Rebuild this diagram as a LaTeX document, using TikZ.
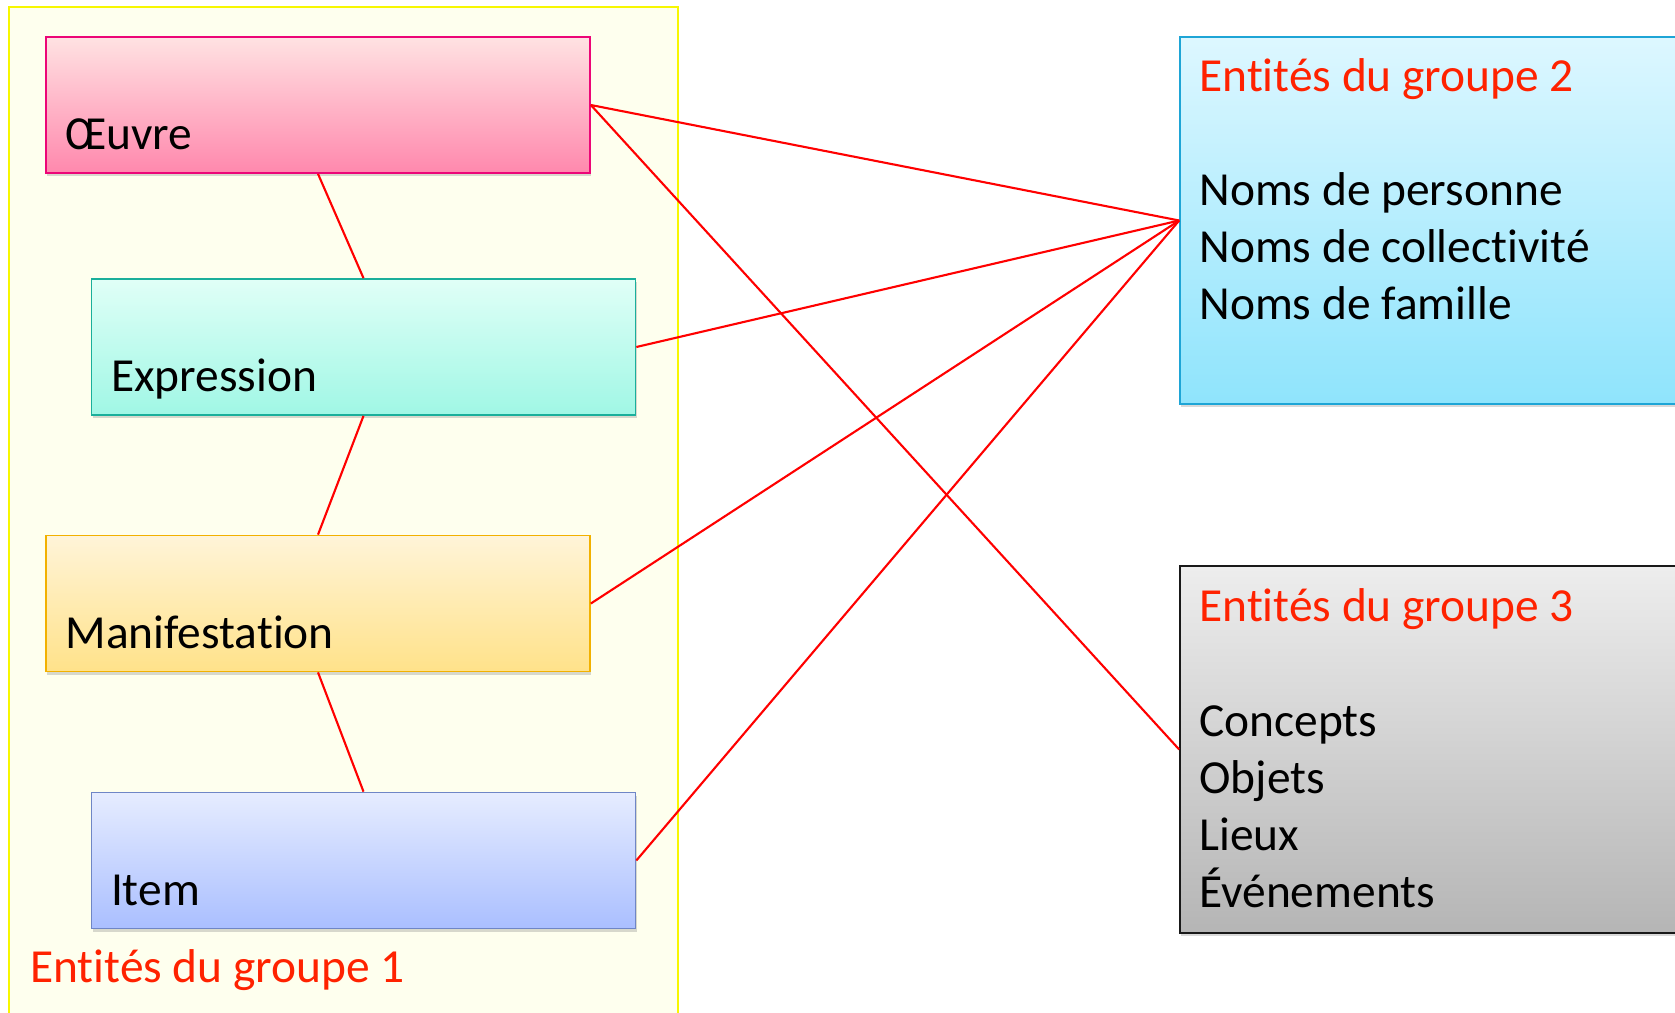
\documentclass[tikz,border=0pt]{standalone}
\usepackage{fontspec}
\setmainfont{Carlito}[Ligatures=NoCommon]
\usepackage{tikz}
\usetikzlibrary{shadows}
\definecolor{fondjaune}{HTML}{FEFFEE}
\definecolor{bordjaune}{HTML}{F7F700}
\definecolor{titrerouge}{HTML}{FF2200}
\definecolor{lienrouge}{HTML}{FF0000}
\newcommand{\boxw}{10.88cm}
\newcommand{\boxh}{2.72cm}
\newcommand{\grw}{11.4cm}
\newcommand{\grh}{7.34cm}

\begin{document}
\begin{tikzpicture}[x=0.02cm, y=-0.02cm,
        every node/.style={font=\fontsize{27}{32}\selectfont},
        entite/.style={rectangle, line width=1pt, inner sep=0pt,
                minimum width=\boxw, minimum height=\boxh,
                drop shadow={shadow xshift=0.6pt, shadow yshift=-1.8pt, opacity=0.3}},
        groupe/.style={entite, minimum width=\grw, minimum height=\grh},
        nomlabel/.style={anchor=base west, inner sep=0pt},
        titre/.style={anchor=base west, inner sep=0pt, text=titrerouge},
        lien/.style={draw=lienrouge, line width=1.2pt}]
                %\draw[help lines] (0,0) grid[step=100] (1675,1012);
                \useasboundingbox (0,0) rectangle (1675,1012);
                \clip (0,0) rectangle (1675,1012);
                % groupe 1
                \node[draw=bordjaune, fill=fondjaune, line width=0.8pt, minimum width=13.38cm,
                        minimum height=20.46cm, inner sep=0pt] (groupe1) at (343.5,518.5) {};
                \node[entite, draw=magenta!80!red, top color=pink!45, bottom color={rgb,255:red,255;green,136;blue,173}] (oeuvre) at (318,105) {};
                \node[entite, draw={rgb,255:red,26;green,175;blue,155}, top color={rgb,255:red,224;green,255;blue,247}, bottom color={rgb,255:red,160;green,247;blue,229}] (expression) at (363.5,347) {};
                \node[entite, draw={rgb,255:red,242;green,177;blue,0}, top color={rgb,255:red,255;green,244;blue,216}, bottom color={rgb,255:red,255;green,226;blue,138}] (manif) at (318,603.5) {};
                \node[entite, draw={rgb,255:red,111;green,134;blue,198}, top color={rgb,255:red,230;green,236;blue,255}, bottom color={rgb,255:red,170;green,191;blue,255}] (item) at (363.5,860.5) {};
                \node[nomlabel] (oeuvretxt) at ([shift={(0.4cm,0.48cm)}]oeuvre.south west) {Œuvre};
                \node[nomlabel] (expressiontxt) at ([shift={(0.4cm,0.48cm)}]expression.south west) {Expression};
                \node[nomlabel] (maniftxt) at ([shift={(0.4cm,0.48cm)}]manif.south west) {Manifestation};
                \node[nomlabel] (itemtxt) at ([shift={(0.4cm,0.48cm)}]item.south west) {Item};
                \node[titre] (titre1) at (30,982) {Entités du groupe 1};
                % groupes 2 et 3
                \node[groupe, draw={rgb,255:red,30;green,165;blue,214}, top color={rgb,255:red,221;green,247;blue,255}, bottom color={rgb,255:red,143;green,228;blue,252}] (groupe2) at (1465,220.5) {};
                \node[groupe, draw=black!90, top color=black!7, bottom color=black!29] (groupe3) at (1465,749.5) {};
                \node[titre] (titre2) at (1199,91) {Entités du groupe 2};
                \foreach \t [count=\i] in {Noms de personne, Noms de collectivité, Noms de famille}
                        \node[nomlabel] (nom\i) at (1199,147.7+57.3*\i) {\t};
                \node[titre] (titre3) at (1199,621) {Entités du groupe 3};
                \foreach \t [count=\i] in {Concepts, Objets, Lieux, Événements}
                        \node[nomlabel] (sujet\i) at (1199,678.7+57.3*\i) {\t};
                % liens
                \draw[lien] (oeuvre.south) -- (expression.north);
                \draw[lien] (expression.south) -- (manif.north);
                \draw[lien] (manif.south) -- (item.north);
                \draw[lien] (oeuvre.east) -- (groupe2.west);
                \draw[lien] (oeuvre.east) -- (groupe3.west);
                \draw[lien] (expression.east) -- (groupe2.west);
                \draw[lien] (manif.east) -- (groupe2.west);
                \draw[lien] (item.east) -- (groupe2.west);
        \end{tikzpicture}
\end{document}
